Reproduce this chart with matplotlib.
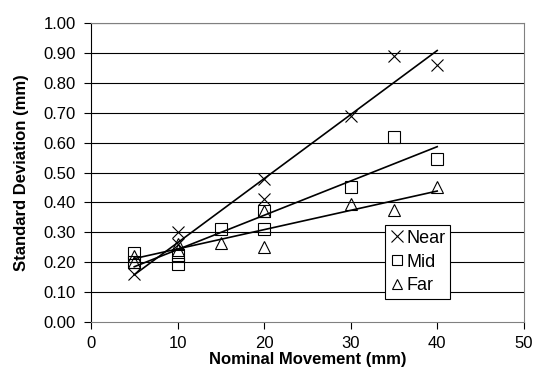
import matplotlib
matplotlib.use("Agg")
import matplotlib.pyplot as plt
import numpy as np

plt.rcParams['font.family'] = ['Liberation Sans', 'DejaVu Sans']

near_x = [5, 10, 10, 20, 20, 30, 35, 40]
near_y = [0.16, 0.30, 0.26, 0.48, 0.41, 0.69, 0.89, 0.86]
mid_x = [5, 5, 10, 10, 15, 20, 20, 30, 35, 40]
mid_y = [0.23, 0.20, 0.195, 0.225, 0.31, 0.37, 0.31, 0.45, 0.62, 0.545]
far_x = [5, 5, 10, 10, 15, 20, 20, 30, 35, 40]
far_y = [0.22, 0.20, 0.26, 0.24, 0.265, 0.37, 0.25, 0.395, 0.375, 0.45]

fig = plt.figure(figsize=(5.35, 3.76), dpi=100)
ax = fig.add_axes([0.170, 0.1436, 0.809, 0.795])

ax.set_xlim(0, 50)
ax.set_ylim(0, 1.0)
yt = np.arange(0, 1.01, 0.1)
ax.set_yticks(yt)
ax.set_yticklabels([f"{v:.2f}" for v in yt])
ax.set_xticks([0, 10, 20, 30, 40, 50])
for v in yt[1:]:
    ax.axhline(v, color='black', lw=0.8, zorder=1)

series = [
    (near_x, near_y, 'x', 'Near', 9),
    (mid_x, mid_y, 's', 'Mid', 8),
    (far_x, far_y, '^', 'Far', 8),
]
for xs, ys, m, lab, ms in series:
    ax.plot(xs, ys, ls='none', marker=m, ms=ms, mfc='none', mec='black',
            mew=0.8, label=lab, zorder=3)
    k, b = np.polyfit(xs, ys, 1)
    xl = np.array([min(xs), max(xs)])
    ax.plot(xl, k * xl + b, color='black', lw=1.2, zorder=2)

for s in ['top', 'right', 'bottom']:
    ax.spines[s].set_color('#808080')
ax.spines['left'].set_color('black')
ax.tick_params(axis='both', direction='out', length=5, width=0.8,
               labelsize=12, colors='black')
ax.tick_params(axis='x', pad=5)
ax.tick_params(axis='y', pad=6)

ax.set_xlabel('Nominal Movement (mm)', fontsize=12, fontweight='bold', labelpad=1)
ax.set_ylabel('Standard Deviation (mm)', fontsize=12, fontweight='bold', labelpad=10)

leg = ax.legend(loc='upper left', bbox_to_anchor=(0.679, 0.324), fontsize=13,
                frameon=True, fancybox=False, framealpha=1, edgecolor='black',
                handlelength=0.8, handletextpad=0.15, borderpad=0.25,
                labelspacing=0.38, borderaxespad=0, markerscale=0.9)
leg.get_frame().set_linewidth(0.8)

fig.savefig('out.png', dpi=100)
